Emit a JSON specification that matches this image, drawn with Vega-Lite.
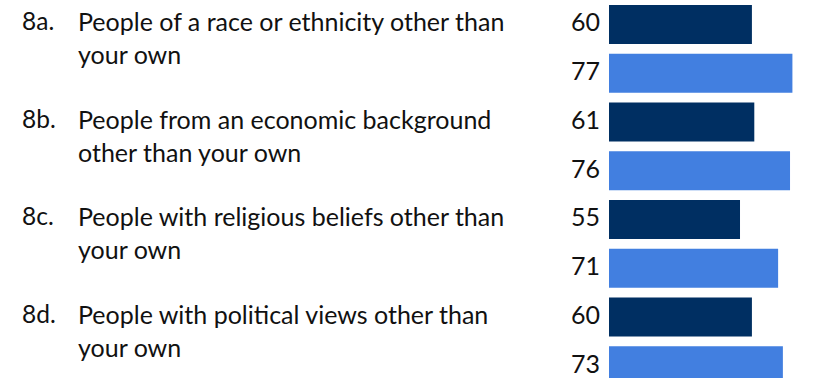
{
  "$schema": "https://vega.github.io/schema/vega-lite/v6.json",
  "width": 831,
  "height": 378,
  "autosize": "none",
  "padding": 0,
  "background": "white",
  "config": {"view": {"stroke": null}, "font": "Lato"},
  "data": {
    "values": [
      {"key": "8a|1", "g": "1", "v": 60, "code": "8a.", "line1": "People of a race or ethnicity other than", "line2": "your own"},
      {"key": "8a|2", "g": "2", "v": 77},
      {"key": "8b|1", "g": "1", "v": 61, "code": "8b.", "line1": "People from an economic background", "line2": "other than your own"},
      {"key": "8b|2", "g": "2", "v": 76},
      {"key": "8c|1", "g": "1", "v": 55, "code": "8c.", "line1": "People with religious beliefs other than", "line2": "your own"},
      {"key": "8c|2", "g": "2", "v": 71},
      {"key": "8d|1", "g": "1", "v": 60, "code": "8d.", "line1": "People with political views other than", "line2": "your own"},
      {"key": "8d|2", "g": "2", "v": 73}
    ]
  },
  "encoding": {
    "y": {
      "field": "key",
      "type": "ordinal",
      "axis": null,
      "scale": {"range": [0, 390], "paddingInner": 0.2, "paddingOuter": 0.1}
    }
  },
  "layer": [
    {
      "mark": {"type": "bar"},
      "encoding": {
        "x": {"field": "v", "type": "quantitative", "axis": null, "scale": {"domain": [0, 93.2], "nice": false, "zero": true, "range": [609, 831]}},
        "color": {"field": "g", "type": "nominal", "legend": null, "scale": {"domain": ["1", "2"], "range": ["#002F62", "#427FE0"]}}
      }
    },
    {
      "mark": {"type": "text", "align": "right", "baseline": "middle", "dx": -9, "dy": -1, "fontSize": 25, "color": "#111111"},
      "encoding": {
        "x": {"datum": 0, "type": "quantitative"},
        "text": {"field": "v", "type": "quantitative"}
      }
    },
    {
      "transform": [{"filter": "datum.g == '1'"}],
      "mark": {"type": "text", "align": "left", "baseline": "middle", "dy": -1, "fontSize": 24.5, "color": "#111111"},
      "encoding": {
        "x": {"value": 22},
        "text": {"field": "code", "type": "nominal"}
      }
    },
    {
      "transform": [{"filter": "datum.g == '1'"}],
      "mark": {"type": "text", "align": "left", "baseline": "middle", "dy": -1, "fontSize": 25, "color": "#111111"},
      "encoding": {
        "x": {"value": 78},
        "text": {"field": "line1", "type": "nominal"}
      }
    },
    {
      "transform": [{"filter": "datum.g == '1'"}],
      "mark": {"type": "text", "align": "left", "baseline": "middle", "dy": 32, "fontSize": 25, "color": "#111111"},
      "encoding": {
        "x": {"value": 78},
        "text": {"field": "line2", "type": "nominal"}
      }
    }
  ]
}
